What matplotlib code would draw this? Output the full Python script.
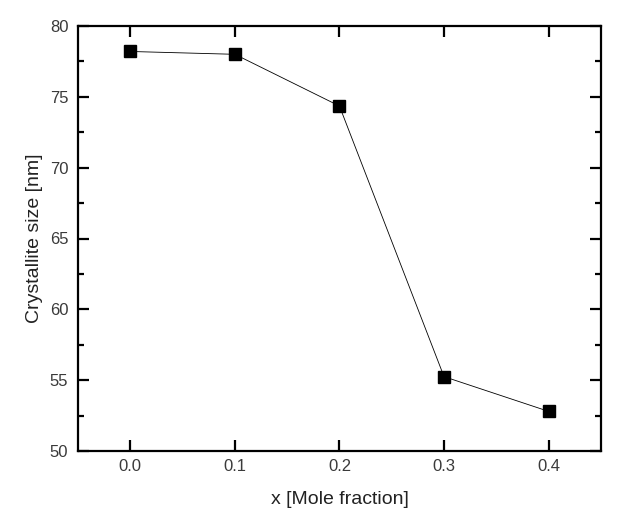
import numpy as np
import matplotlib
matplotlib.use('Agg')
import matplotlib.pyplot as plt
from matplotlib.ticker import MultipleLocator

x = [0.0, 0.1, 0.2, 0.3, 0.4]
size = [78.2, 78.0, 74.35, 55.25, 52.8]

plt.rcParams['font.family'] = ['Liberation Sans', 'DejaVu Sans']

fig = plt.figure(figsize=(6.21, 5.30), dpi=100)
ax = fig.add_axes([0.1256, 0.149, 0.842, 0.802])

ax.plot(x, size, c='k', lw=0.6, marker='s', ms=9, mfc='k', mec='k')

ax.set_xlim(-0.05, 0.45)
ax.set_ylim(50, 80)
ax.xaxis.set_major_locator(MultipleLocator(0.1))
ax.yaxis.set_major_locator(MultipleLocator(5))
ax.yaxis.set_minor_locator(MultipleLocator(2.5))
ax.xaxis.set_major_formatter(matplotlib.ticker.FormatStrFormatter('%.1f'))

for s in ax.spines.values():
    s.set_linewidth(1.6)
ax.tick_params(which='both', direction='in', top=True, right=True, width=1.6,
               labelsize=12, labelcolor='#3a3a3a')
ax.tick_params(axis='y', pad=7)
ax.tick_params(axis='x', pad=6)
ax.tick_params(which='major', length=8)
ax.tick_params(which='minor', length=4)

ax.set_xlabel('x [Mole fraction]', fontsize=14, color='#222222', labelpad=12)
ax.set_ylabel('Crystallite size [nm]', fontsize=14, color='#222222', labelpad=5)

plt.savefig('out.png', dpi=100)
